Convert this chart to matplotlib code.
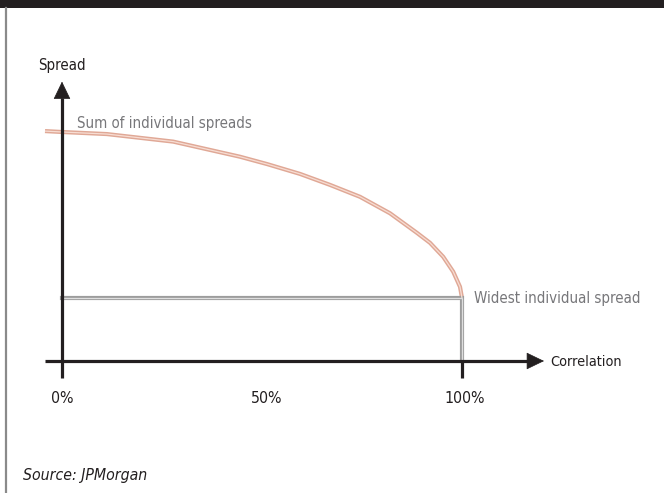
import matplotlib
matplotlib.use("Agg")
import matplotlib.pyplot as plt
from matplotlib.patches import Rectangle
from matplotlib.lines import Line2D
from matplotlib import font_manager as fm

# pick a condensed sans if available
FONT = dict(family='Liberation Sans', stretch='normal')
for c in [dict(family='Liberation Sans Narrow', stretch='normal', key='narrow'),
          dict(family='DejaVu Sans', stretch='condensed', key='condensed')]:
    try:
        path = fm.findfont(fm.FontProperties(family=c['family'], stretch=c['stretch']),
                           fallback_to_default=False)
    except Exception:
        continue
    if c['key'] in path.lower():
        FONT = c
        break

# Data (correlation in %, spread in arbitrary units)
corr = [-4.25, 0, 11.2, 27.8, 44.5, 51.25, 59.5, 67.0, 74.5, 82.0, 88.7, 92.0, 95.3, 97.8, 99.5, 100]
sum_spreads = [100.4, 100, 99.1, 95.8, 89.2, 86.0, 81.7, 76.9, 71.7, 64.5, 56.0, 51.6, 45.5, 39.0, 32.4, 27.5]
widest_x = [0, 100, 100]
widest_y = [27.5, 27.5, 0]
tick_pos = [0, 50, 100]
tick_labels = ['0%', '50%', '100%']

W, H = 664, 493
fig = plt.figure(figsize=(W / 100, H / 100), dpi=100)
fig.patch.set_facecolor('white')

fig.patches.append(Rectangle((0, 1 - 7.7 / H), 1, 7.7 / H, transform=fig.transFigure,
                             facecolor='#231f20', edgecolor='none'))
fig.lines.append(Line2D([6 / W, 6 / W], [0, 1 - 7.7 / H], transform=fig.transFigure,
                        color='#8a8a8a', lw=1.6))

ax = fig.add_axes([62 / W, (H - 361) / H, 400 / W, 229 / H])
ax.set_xlim(0, 100)
ax.set_ylim(0, 100)
ax.axis('off')

dark = '#231f20'
ax.plot(corr, sum_spreads, color='#e0a896', lw=3.0, clip_on=False, solid_capstyle='butt', zorder=3)
ax.plot(corr, sum_spreads, color='#f7ddd3', lw=0.9, clip_on=False, solid_capstyle='butt', zorder=4)
ax.plot(widest_x, widest_y, color='#9d9d9d', lw=3.0, clip_on=False, solid_joinstyle='miter', zorder=3)
ax.plot(widest_x, widest_y, color='#dedede', lw=0.9, clip_on=False, solid_joinstyle='miter', zorder=4)

ax.plot([0, 0], [-7.4, 115], color=dark, lw=2.3, clip_on=False, zorder=5, solid_capstyle='butt')
ax.plot([-4.25, 117], [0, 0], color=dark, lw=2.3, clip_on=False, zorder=5, solid_capstyle='butt')
ax.plot([100, 100], [0, -7.4], color=dark, lw=2.3, clip_on=False, zorder=5, solid_capstyle='butt')
ax.annotate('', xy=(0, 122), xytext=(0, 112), xycoords='data',
            arrowprops=dict(arrowstyle='-|>,head_length=0.58,head_width=0.28', mutation_scale=20,
                            color=dark, lw=0.5, shrinkA=0, shrinkB=0), annotation_clip=False, zorder=6)
ax.annotate('', xy=(120.5, 0), xytext=(112, 0), xycoords='data',
            arrowprops=dict(arrowstyle='-|>,head_length=0.58,head_width=0.28', mutation_scale=20,
                            color=dark, lw=0.5, shrinkA=0, shrinkB=0), annotation_clip=False, zorder=6)

fkw = dict(family=[FONT['family'], 'DejaVu Sans'], fontstretch=FONT['stretch'])
fs = 10.8
label_shift_px = [0, 5, 3]
for p, lab, dx in zip(tick_pos, tick_labels, label_shift_px):
    ax.annotate(lab, xy=(p, 0), xytext=(dx * 0.72, -30.5), textcoords='offset points',
                ha='center', va='baseline', fontsize=11.4, color=dark, annotation_clip=False, **fkw)

def px(x, y):
    return (x / W, 1 - y / H)

fig.text(*px(37.7, 70), 'Spread', fontsize=fs, color=dark, va='baseline', ha='left', **fkw)
fig.text(*px(76.7, 128.3), 'Sum of individual spreads', fontsize=fs, color='#77777a', va='baseline', ha='left', **fkw)
fig.text(*px(474, 303.3), 'Widest individual spread', fontsize=fs, color='#77777a', va='baseline', ha='left', **fkw)
fig.text(*px(550, 365.7), 'Correlation', fontsize=10.4, color=dark, va='baseline', ha='left', **fkw)
fig.text(*px(22.7, 480), 'Source: JPMorgan', fontsize=11.3, color=dark, va='baseline', ha='left', style='italic', **fkw)

fig.savefig('out.png', dpi=100)
